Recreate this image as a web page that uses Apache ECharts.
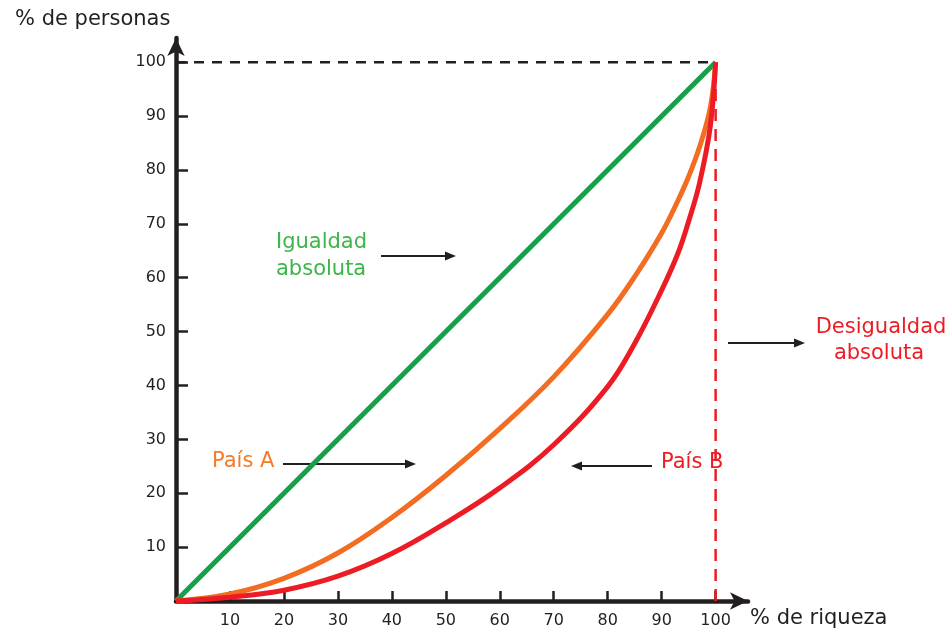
<!DOCTYPE html>
<html>
<head>
<meta charset="utf-8">
<script src="https://cdn.jsdelivr.net/npm/echarts@6/dist/echarts.min.js"></script>
<style>
html,body{margin:0;padding:0;background:#fff;}
#c{width:950px;height:631px;}
</style>
</head>
<body>
<div id="c"></div>
<script>
// ---- data ----
const xTicks = [10, 20, 30, 40, 50, 60, 70, 80, 90, 100];
const yTicks = [10, 20, 30, 40, 50, 60, 70, 80, 90, 100];
const riqueza = [0, 10, 20, 30, 40, 50, 60, 70, 80, 85, 90, 93, 95, 97, 99, 100];
const paisA   = [0, 1.3, 4.2, 8.9, 15.5, 23.3, 32, 41.6, 53.2, 60.2, 68.3, 74.3, 78.8, 84.2, 91.5, 100];
const paisB   = [0, 0.7, 2.0, 4.6, 8.8, 14.5, 21.0, 29.0, 39.8, 47.8, 57.7, 64.5, 70.5, 77.5, 88, 100];
const igualdadX = [0, 100];
const igualdadY = [0, 100];
const topLineX = [0, 100];
const topLineY = [100, 100];
const desigX = [100, 100];
const desigY = [0, 100];

const zip = (a, b) => a.map((v, i) => [v, b[i]]);

const FONT = 'DejaVu Sans';
const GREEN = '#16a04a', ORANGE = '#f26d21', RED = '#ed1c24';

function arrow(x1, x2, y) {
  const dir = x2 > x1 ? 1 : -1;
  const head = 11;
  return {
    type: 'group',
    children: [
      { type: 'line', shape: { x1: x1, y1: y, x2: x2 - dir * head, y2: y },
        style: { stroke: '#231f20', lineWidth: 2.2 } },
      { type: 'polygon', shape: { points: [[x2, y], [x2 - dir * head, y - 4.5], [x2 - dir * head, y + 4.5]] },
        style: { fill: '#231f20' } }
    ]
  };
}
function label(text, x, y, color, align) {
  return { type: 'text', x: x, y: y,
    style: { text: text, fill: color, font: '21px "' + FONT + '"', textAlign: align || 'left', textVerticalAlign: 'middle' } };
}

const chart = echarts.init(document.getElementById('c'));
chart.setOption({
  animation: false,
  backgroundColor: '#fff',
  grid: { left: 176, top: 38, width: 572, bottom: 30, containLabel: false },
  xAxis: {
    type: 'value', min: 0, max: 106,
    axisLine: { show: true, symbol: ['none', 'arrow'], symbolSize: [13, 18],
      lineStyle: { color: '#231f20', width: 4.5 } },
    axisTick: { show: true, inside: true, length: 10, customValues: xTicks,
      lineStyle: { color: '#231f20', width: 2.5 } },
    axisLabel: { customValues: xTicks, color: '#231f20', fontSize: 16, fontFamily: FONT, margin: 12 },
    splitLine: { show: false }
  },
  yAxis: {
    type: 'value', min: 0, max: 104.5,
    axisLine: { show: true, symbol: ['none', 'arrow'], symbolSize: [13, 18],
      lineStyle: { color: '#231f20', width: 4.5 } },
    axisTick: { show: true, inside: true, length: 12, customValues: yTicks,
      lineStyle: { color: '#231f20', width: 2.5 } },
    axisLabel: { customValues: yTicks, color: '#231f20', fontSize: 16, fontFamily: FONT, margin: 10 },
    splitLine: { show: false }
  },
  series: [
    { type: 'line', data: zip(topLineX, topLineY), symbol: 'none', silent: true,
      lineStyle: { color: '#231f20', width: 2.5, type: [10, 8] }, z: 1 },
    { type: 'line', data: zip(desigX, desigY), symbol: 'none', silent: true,
      lineStyle: { color: RED, width: 2.5, type: [12, 8] }, z: 1 },
    { type: 'line', name: 'Igualdad absoluta', data: zip(igualdadX, igualdadY), symbol: 'none',
      lineStyle: { color: GREEN, width: 5 }, z: 3 },
    { type: 'line', name: 'País A', data: zip(riqueza, paisA), symbol: 'none', smooth: 0.4,
      lineStyle: { color: ORANGE, width: 5 }, z: 4 },
    { type: 'line', name: 'País B', data: zip(riqueza, paisB), symbol: 'none', smooth: 0.4,
      lineStyle: { color: RED, width: 5 }, z: 5 }
  ],
  graphic: [
    { type: 'text', left: 15, top: 9, style: { text: '% de personas', fill: '#231f20', font: '21px "' + FONT + '"' } },
    { type: 'text', left: 750, top: 608, style: { text: '% de riqueza', fill: '#231f20', font: '21px "' + FONT + '"' } },
    label('Igualdad', 276, 243, '#3cb54a'),
    label('absoluta', 276, 270, '#3cb54a'),
    arrow(381, 456, 256),
    label('País A', 212, 462, '#f47a2a'),
    arrow(283, 416, 464),
    label('País B', 661, 463, RED),
    arrow(652, 571, 466),
    label('Desigualdad', 881, 328, RED, 'center'),
    label('absoluta', 879, 354, RED, 'center'),
    arrow(728, 805, 343)
  ]
});
</script>
</body>
</html>
